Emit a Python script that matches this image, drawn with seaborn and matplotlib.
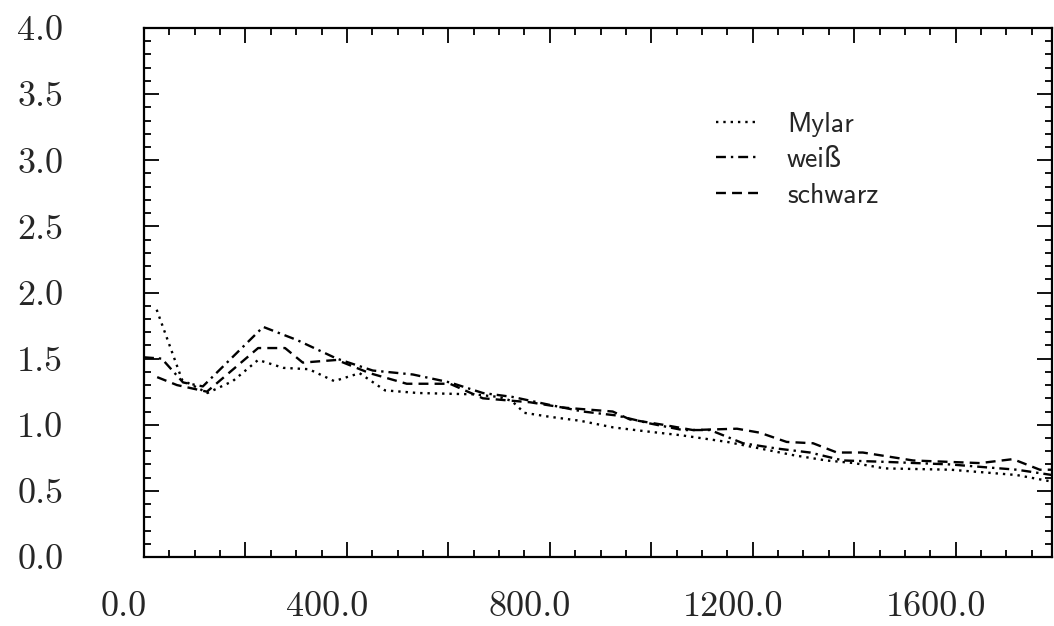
import matplotlib
matplotlib.use("Agg")
import matplotlib.pyplot as plt
import matplotlib.transforms as mtransforms
from matplotlib.ticker import FixedLocator, MultipleLocator, FixedFormatter
import seaborn as sns

# Mylar (dotted)
mylar_x = [25, 75, 125, 175, 225, 275, 325, 375, 425, 475, 540, 650, 700, 725, 750,
           800, 860, 925, 990, 1060, 1150, 1215, 1280, 1345, 1400, 1460, 1590, 1655, 1720, 1790]
mylar_y = [1.87, 1.34, 1.24, 1.33, 1.49, 1.43, 1.42, 1.33, 1.39, 1.26, 1.24, 1.23, 1.21, 1.18, 1.09,
           1.06, 1.03, 0.98, 0.95, 0.92, 0.87, 0.82, 0.77, 0.73, 0.71, 0.67, 0.66, 0.64, 0.62, 0.57]

# weiss (dash-dot)
weiss_x = [0, 35, 77, 116, 235, 302, 380, 451, 530, 603, 668, 727, 800, 865, 932, 997,
           1062, 1116, 1181, 1248, 1313, 1378, 1457, 1589, 1654, 1721, 1790]
weiss_y = [1.51, 1.50, 1.32, 1.29, 1.74, 1.64, 1.50, 1.41, 1.38, 1.32, 1.24, 1.21, 1.15, 1.10, 1.07, 1.01,
           0.96, 0.96, 0.86, 0.82, 0.79, 0.73, 0.72, 0.70, 0.68, 0.66, 0.62]

# schwarz (dashed)
schwarz_x = [26, 65, 124, 225, 278, 313, 380, 445, 518, 603, 668, 761, 826, 924, 958, 1023,
             1082, 1169, 1214, 1267, 1319, 1366, 1417, 1516, 1648, 1713, 1766, 1790]
schwarz_y = [1.36, 1.30, 1.25, 1.58, 1.58, 1.47, 1.49, 1.39, 1.31, 1.31, 1.20, 1.17, 1.13, 1.10, 1.04, 1.00,
             0.96, 0.97, 0.94, 0.87, 0.86, 0.79, 0.79, 0.73, 0.71, 0.74, 0.66, 0.66]

x_ticks = [0, 200, 400, 600, 800, 1000, 1200, 1400, 1600, 1800]
x_labels = ["0.0", "", "400.0", "", "800.0", "", "1200.0", "", "1600.0", ""]
y_ticks = [0.0, 0.5, 1.0, 1.5, 2.0, 2.5, 3.0, 3.5, 4.0]
y_labels = ["0.0", "0.5", "1.0", "1.5", "2.0", "2.5", "3.0", "3.5", "4.0"]

sns.set_style("ticks")
plt.rcParams["axes.formatter.use_mathtext"] = True

fig = plt.figure(figsize=(10.54, 6.26), dpi=100)
ax = fig.add_axes([144 / 1054, 69 / 626, 908 / 1054, 529 / 626])

LW = 1.7
sns.lineplot(x=mylar_x, y=mylar_y, ax=ax, color="black", lw=LW,
             linestyle=(0, (1, 2.1)), label="Mylar")
sns.lineplot(x=weiss_x, y=weiss_y, ax=ax, color="black", lw=LW,
             linestyle=(0, (4.2, 2.1, 1, 2.1)), label="weiß")
sns.lineplot(x=schwarz_x, y=schwarz_y, ax=ax, color="black", lw=LW,
             linestyle=(0, (4.2, 2.6)), label="schwarz")

ax.set_xlim(0, 1790)
ax.set_ylim(0, 4.0)

ax.xaxis.set_major_locator(FixedLocator(x_ticks))
ax.xaxis.set_major_formatter(FixedFormatter(x_labels))
ax.xaxis.set_minor_locator(MultipleLocator(50))
ax.yaxis.set_major_locator(FixedLocator(y_ticks))
ax.yaxis.set_major_formatter(FixedFormatter(y_labels))
ax.yaxis.set_minor_locator(MultipleLocator(0.1))

ax.tick_params(which="both", direction="in", top=True, right=True, color="black")
ax.tick_params(which="major", length=11, width=1.3)
ax.tick_params(which="minor", length=5, width=1.3)
ax.tick_params(axis="x", which="major", pad=25)
ax.tick_params(axis="y", which="major", pad=58)

for lab in ax.get_xticklabels():
    lab.set_family("cmr10")
    lab.set_fontsize(26)
    lab.set_transform(lab.get_transform() +
                      mtransforms.ScaledTranslation(-0.20, 0, fig.dpi_scale_trans))
for lab in ax.get_yticklabels():
    lab.set_family("cmr10")
    lab.set_fontsize(26)

for sp in ax.spines.values():
    sp.set_linewidth(1.6)
    sp.set_color("black")

ax.set_xlabel("")
ax.set_ylabel("")

leg = ax.legend(loc="upper left", bbox_to_anchor=(0.630, 0.842), frameon=False,
                borderpad=0, borderaxespad=0, handlelength=1.5, handletextpad=1.05,
                labelspacing=0.38, prop={"family": ["cmss10", "DejaVu Sans"], "size": 20})

fig.savefig("out.png", dpi=100, facecolor="white")
